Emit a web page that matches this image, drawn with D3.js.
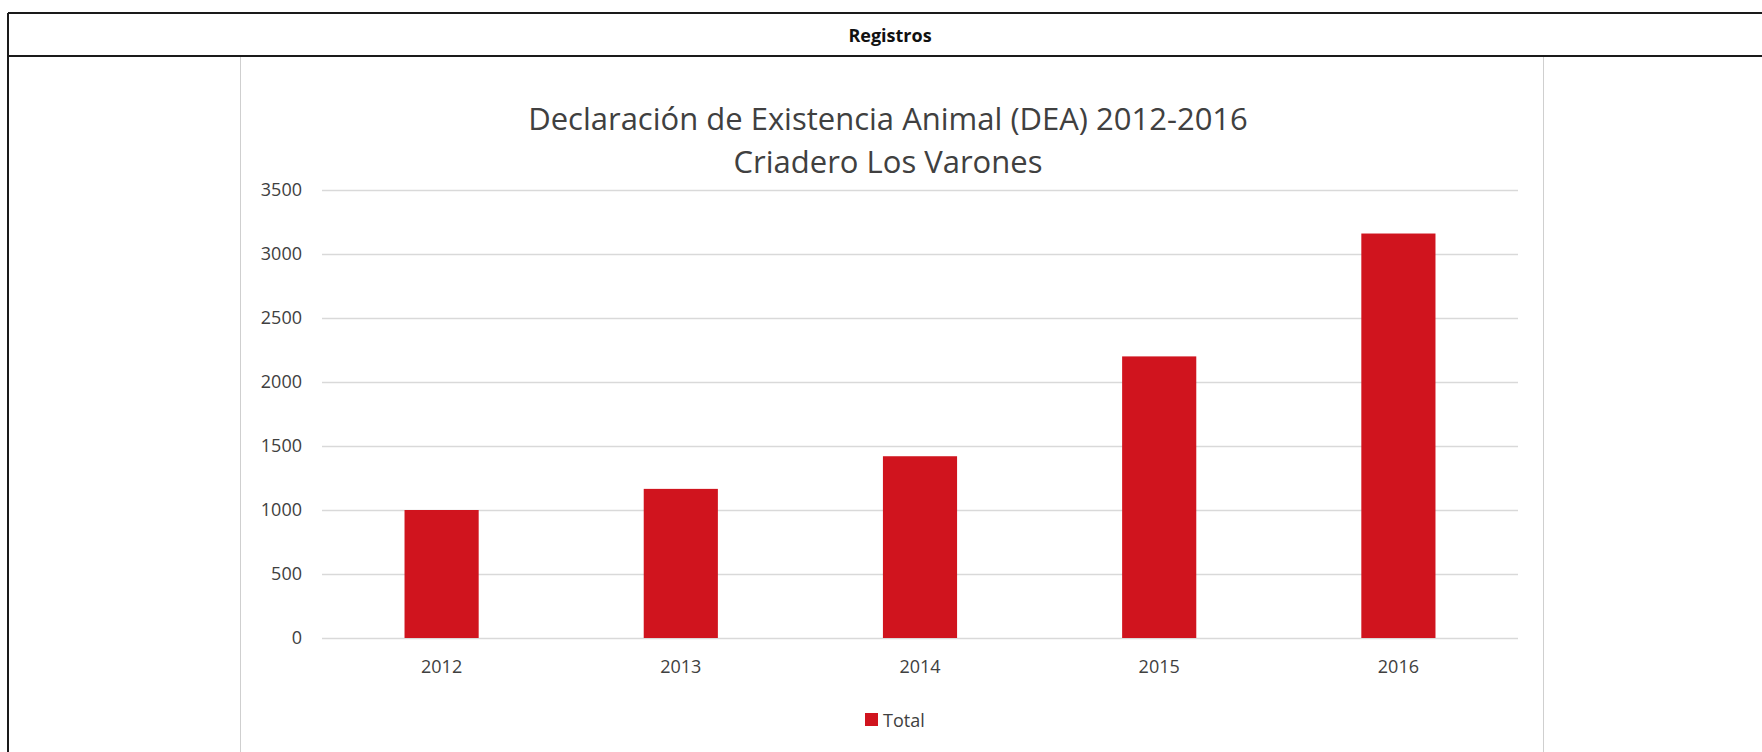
<!DOCTYPE html>
<html>
<head>
<meta charset="utf-8">
<script src="https://cdn.jsdelivr.net/npm/d3@7"></script>
<style>
	body { margin: 0; background: #fff; }
	svg { display: block; font-family: "Open Sans", "DejaVu Sans", sans-serif; }
</style>
</head>
<body>
<svg id="chart"></svg>
<script>
// datos
var years = ["2012", "2013", "2014", "2015", "2016"];
var totals = [1000, 1165, 1420, 2200, 3160];
var yTicks = [0, 500, 1000, 1500, 2000, 2500, 3000, 3500];
var headerText = "Registros";
var titleLines = ["Declaración de Existencia Animal (DEA) 2012-2016", "Criadero Los Varones"];
var seriesName = "Total";

var width = 1762, height = 752;
var barColor = "#d0141e";
var gridColor = "#d9d9d9";
var textColor = "#404040";

var svg = d3.select("#chart")
	.attr("width", width)
	.attr("height", height);

svg.append("rect")
	.attr("width", width)
	.attr("height", height)
	.attr("fill", "#fff");

// marco de la tabla
var frame = svg.append("g").attr("stroke", "#1a1a1a").attr("stroke-width", 2);
frame.append("line").attr("x1", 8).attr("x2", width).attr("y1", 13).attr("y2", 13);
frame.append("line").attr("x1", 8).attr("x2", width).attr("y1", 56).attr("y2", 56);
frame.append("line").attr("x1", 8).attr("x2", 8).attr("y1", 13).attr("y2", height);

svg.append("text")
	.attr("x", 890)
	.attr("y", 35)
	.attr("text-anchor", "middle")
	.attr("dominant-baseline", "central")
	.attr("font-weight", "bold")
	.attr("font-size", 18)
	.attr("fill", "#111")
	.text(headerText);

// borde del area del grafico
var chartBox = svg.append("g").attr("stroke", "#cfcfcf").attr("stroke-width", 1);
chartBox.append("line").attr("x1", 240.5).attr("x2", 240.5).attr("y1", 57).attr("y2", height);
chartBox.append("line").attr("x1", 1543.5).attr("x2", 1543.5).attr("y1", 57).attr("y2", height);

// titulo
svg.append("g")
	.selectAll("text")
	.data(titleLines)
	.enter()
	.append("text")
	.attr("x", 888)
	.attr("y", function(d, i) {
		return 118 + i * 43;
	})
	.attr("text-anchor", "middle")
	.attr("dominant-baseline", "central")
	.attr("font-size", 31)
	.attr("fill", textColor)
	.text(function(d) { return d; });

var xScale = d3.scaleBand()
	.domain(years)
	.range([322, 1518])
	.paddingInner(0.69)
	.paddingOuter(0.345);

var yScale = d3.scaleLinear()
	.domain([0, 3500])
	.range([638, 190]);

// lineas de la grilla
svg.append("g")
	.attr("id", "grid")
	.selectAll("line")
	.data(yTicks)
	.enter()
	.append("line")
	.attr("x1", 322)
	.attr("x2", 1518)
	.attr("y1", function(d) { return Math.round(yScale(d)) + 0.5; })
	.attr("y2", function(d) { return Math.round(yScale(d)) + 0.5; })
	.attr("stroke", gridColor)
	.attr("stroke-width", 1.3);

// barras
svg.append("g")
	.attr("id", "bars")
	.selectAll("rect")
	.data(totals)
	.enter()
	.append("rect")
	.attr("x", function(d, i) { return xScale(years[i]); })
	.attr("y", function(d) { return yScale(d); })
	.attr("width", xScale.bandwidth())
	.attr("height", function(d) { return yScale(0) - yScale(d); })
	.attr("fill", barColor);

// ejes
var yAxis = d3.axisLeft(yScale)
	.tickValues(yTicks)
	.tickFormat(d3.format("d"))
	.tickSize(0)
	.tickPadding(0);

var yG = svg.append("g")
	.attr("transform", "translate(302,0)")
	.call(yAxis);
yG.select(".domain").remove();
yG.selectAll("text")
	.attr("font-size", 18)
	.attr("font-family", "'Open Sans', sans-serif")
	.attr("fill", textColor);

var xAxis = d3.axisBottom(xScale)
	.tickSize(0)
	.tickPadding(22);

var xG = svg.append("g")
	.attr("transform", "translate(0,638)")
	.call(xAxis);
xG.select(".domain").remove();
xG.selectAll("text")
	.attr("font-size", 18)
	.attr("font-family", "'Open Sans', sans-serif")
	.attr("fill", textColor);

// leyenda
var legend = svg.append("g").attr("transform", "translate(865,713)");
legend.append("rect")
	.attr("width", 13)
	.attr("height", 13)
	.attr("fill", barColor);
legend.append("text")
	.attr("x", 18)
	.attr("y", 7)
	.attr("dominant-baseline", "central")
	.attr("font-size", 18)
	.attr("fill", textColor)
	.text(seriesName);
</script>
</body>
</html>
